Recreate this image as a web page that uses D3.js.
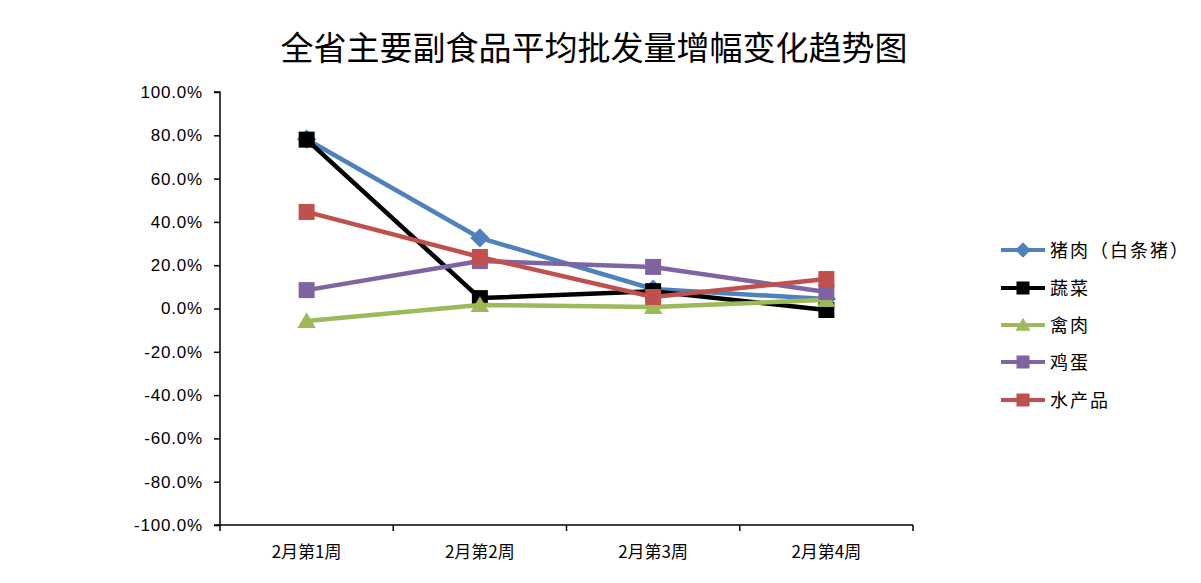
<!DOCTYPE html>
<html><head><meta charset="utf-8">
<script src="https://cdn.jsdelivr.net/npm/d3@7"></script>
<style>body{margin:0;background:#fff;} svg{display:block;}</style>
</head><body>
<svg id="c" width="1201" height="583"></svg>
<script>
const title = "全省主要副食品平均批发量增幅变化趋势图";
const categories = ["2月第1周","2月第2周","2月第3周","2月第4周"];
const seriesNames = ["猪肉（白条猪）","蔬菜","禽肉","鸡蛋","水产品"];
const pork = [78.2, 32.6, 9.0, 4.4];
const vegetables = [78.0, 4.8, 8.0, -0.7];
const poultry = [-5.8, 1.6, 0.7, 4.0];
const eggs = [8.5, 21.9, 19.2, 7.6];
const aquatic = [44.6, 23.8, 5.3, 13.6];
const yTicks = [-100,-80,-60,-40,-20,0,20,40,60,80,100];

(function(){
const colors = ["#4F81BD","#000000","#9BBB59","#8064A2","#C0504D"];
const markers = ["diamond","square","triangle","square","square"];
const seriesData = [pork, vegetables, poultry, eggs, aquatic];
const drawOrder = [0,1,2,3,4];

const svg = d3.select("#c");
const mLeft = 220, mRight = 913, mTop = 92, mBottom = 525;
const cjk = "'Noto Sans CJK SC', sans-serif";

svg.append("text").attr("x", 594).attr("y", 60).attr("text-anchor","middle")
  .attr("font-family", cjk).attr("font-size", 33).attr("fill","#000").text(title);

const x = d3.scaleBand().domain(categories).range([mLeft, mRight]).padding(0);
const y = d3.scaleLinear().domain([-100,100]).range([mBottom, mTop]);

const yAxis = d3.axisLeft(y).tickValues(yTicks).tickSize(6).tickPadding(11)
  .tickFormat(d => d.toFixed(1) + "%");
const gy = svg.append("g").attr("transform", `translate(${mLeft},0)`).call(yAxis);
gy.select(".domain").attr("stroke","#000").attr("stroke-width",1.5).attr("d", `M-6,${mTop}H0V${mBottom}H-6`);
gy.selectAll(".tick line").attr("stroke","#000").attr("stroke-width",1.5);
gy.selectAll(".tick text").attr("font-family", "'Liberation Sans', Arial, sans-serif").attr("font-size", 17)
  .attr("letter-spacing", "0.8px").attr("fill","#000");

const gx = svg.append("g").attr("transform", `translate(0,${mBottom})`);
gx.append("line").attr("x1", mLeft).attr("x2", mRight).attr("y1",0).attr("y2",0).attr("stroke","#000").attr("stroke-width",1.5);
const bounds = categories.map(c => x(c)).concat([x(categories[categories.length-1]) + x.bandwidth()]);
gx.selectAll("line.tk").data(bounds).enter().append("line").attr("class","tk")
  .attr("x1", d=>d).attr("x2", d=>d).attr("y1",0).attr("y2",6).attr("stroke","#000").attr("stroke-width",1.5);
gx.selectAll("text.lbl").data(categories).enter().append("text").attr("class","lbl")
  .attr("x", d => x(d) + x.bandwidth()/2).attr("y", 33).attr("text-anchor","middle")
  .attr("font-family", cjk).attr("font-size", 17).attr("fill","#000").text(d=>d);

const line = d3.line().x((d,i) => x(categories[i]) + x.bandwidth()/2).y(d => y(d));

function drawMarker(g, type, cx, cy, color, s) {
  if (type === "square") {
    g.append("rect").attr("x", cx - s/2).attr("y", cy - s/2).attr("width", s).attr("height", s).attr("fill", color);
  } else if (type === "diamond") {
    const r = s*0.6;
    g.append("path").attr("d", `M${cx},${cy-r}L${cx+r},${cy}L${cx},${cy+r}L${cx-r},${cy}Z`).attr("fill", color);
  } else if (type === "triangle") {
    const r = s*0.55;
    g.append("path").attr("d", `M${cx},${cy-r}L${cx+r*1.05},${cy+r*0.8}L${cx-r*1.05},${cy+r*0.8}Z`).attr("fill", color);
  }
}

drawOrder.forEach(si => {
  const vals = seriesData[si];
  const g = svg.append("g");
  g.append("path").attr("d", line(vals)).attr("fill","none").attr("stroke", colors[si]).attr("stroke-width", 4.5).attr("stroke-linejoin","round");
  vals.forEach((v,i) => drawMarker(g, markers[si], x(categories[i]) + x.bandwidth()/2, y(v), colors[si], 16));
});

const lg = svg.append("g");
const legY = [250, 288, 325, 362, 400];
seriesNames.forEach((n, i) => {
  const yy = legY[i];
  lg.append("line").attr("x1", 1001).attr("x2", 1045).attr("y1", yy).attr("y2", yy).attr("stroke", colors[i]).attr("stroke-width", 4);
  drawMarker(lg, markers[i], 1023, yy, colors[i], 13);
  lg.append("text").attr("x", 1050).attr("y", yy + 7).attr("font-family", cjk).attr("font-size", 18)
    .attr("letter-spacing", "2px").attr("fill","#000").text(n);
});
})();
</script>
</body></html>
